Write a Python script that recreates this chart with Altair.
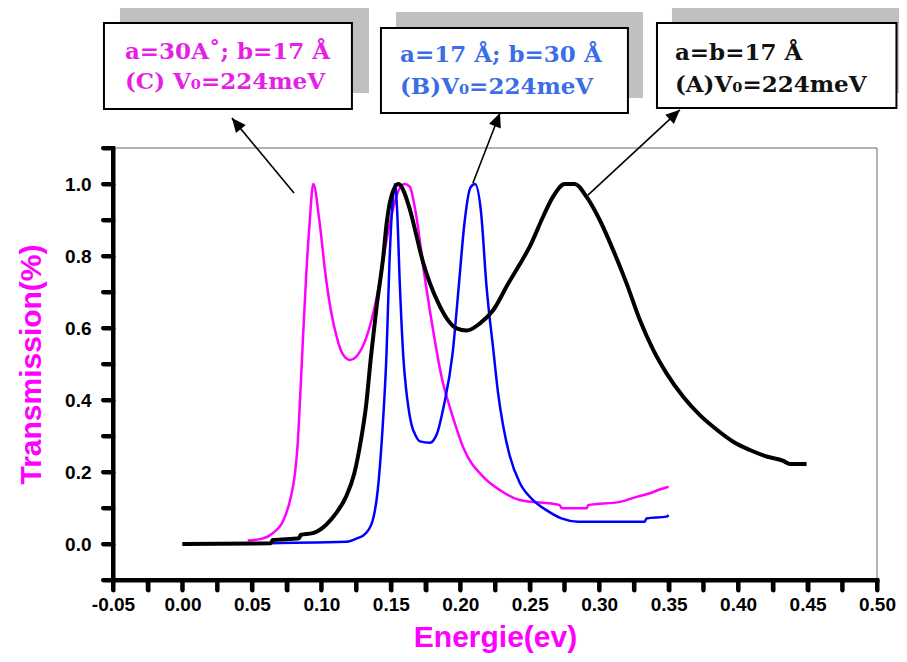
import math
import altair as alt
import pandas as pd

# ---------------- data ----------------
magenta_E = [0.047, 0.0575, 0.065, 0.0727, 0.0775, 0.081, 0.083, 0.085, 0.087, 0.089,
             0.0915, 0.0942, 0.0985, 0.1026, 0.1055, 0.111, 0.115, 0.1206, 0.125, 0.1326,
             0.1422, 0.147, 0.152, 0.157, 0.160, 0.1636, 0.168, 0.174, 0.180, 0.187,
             0.1924, 0.1965, 0.2019, 0.2164, 0.2284, 0.2428, 0.2716, 0.273, 0.291, 0.292,
             0.315, 0.327, 0.3365, 0.344, 0.35]
magenta_T = [0.01, 0.015, 0.03, 0.066, 0.122, 0.196, 0.28, 0.43, 0.59, 0.74,
             0.89, 1.0, 0.9, 0.761, 0.68, 0.576, 0.53, 0.511, 0.52, 0.576,
             0.733, 0.845, 0.937, 0.993, 1.0, 0.993, 0.919, 0.752, 0.604, 0.456,
             0.381, 0.33, 0.27, 0.187, 0.15, 0.122, 0.108, 0.099, 0.099, 0.108,
             0.117, 0.131, 0.141, 0.152, 0.159]

blue_E = [0.0, 0.118, 0.126, 0.132, 0.137, 0.1406, 0.1437, 0.147, 0.149, 0.1513,
          0.153, 0.1545, 0.1565, 0.159, 0.161, 0.1626, 0.165, 0.1674, 0.171, 0.178,
          0.1833, 0.188, 0.1945, 0.199, 0.203, 0.2073, 0.2106, 0.2150, 0.2188, 0.2238,
          0.2272, 0.2308, 0.2356, 0.2428, 0.2524, 0.262, 0.2728, 0.2848, 0.3328, 0.334,
          0.3484, 0.35]
blue_T = [0.0, 0.006, 0.016, 0.03, 0.066, 0.15, 0.3, 0.539, 0.78, 0.95,
          1.0, 0.93, 0.72, 0.52, 0.43, 0.381, 0.33, 0.305, 0.285, 0.281,
          0.307, 0.381, 0.53, 0.72, 0.891, 0.99, 1.0, 0.92, 0.72, 0.539,
          0.42, 0.33, 0.245, 0.17, 0.122, 0.094, 0.071, 0.062, 0.062, 0.071,
          0.076, 0.08]

black_E = [0.0, 0.0637, 0.065, 0.084, 0.085, 0.0937, 0.1033, 0.1105, 0.1177, 0.1237,
           0.1285, 0.1321, 0.1357, 0.1398, 0.1446, 0.147, 0.150, 0.1554, 0.1638,
           0.1686, 0.1734, 0.1782, 0.1842, 0.1902, 0.1974, 0.2046, 0.2142, 0.2238, 0.2346,
           0.2425, 0.25, 0.2596, 0.2668, 0.2752, 0.2824, 0.2908, 0.3004, 0.31, 0.3197,
           0.3293, 0.3389, 0.3485, 0.3605, 0.3725, 0.3845, 0.3965, 0.4085, 0.4205, 0.4325,
           0.4373, 0.4493]
black_T = [0.0, 0.002, 0.011, 0.016, 0.025, 0.03, 0.053, 0.085, 0.131, 0.196,
           0.289, 0.381, 0.52, 0.66, 0.80, 0.891, 0.96, 1.0, 0.928,
           0.854, 0.78, 0.724, 0.669, 0.627, 0.599, 0.593, 0.613, 0.65, 0.724,
           0.775, 0.826, 0.909, 0.965, 1.0, 1.0, 0.965, 0.9, 0.817, 0.724,
           0.622, 0.539, 0.474, 0.409, 0.358, 0.318, 0.284, 0.261, 0.243, 0.231,
           0.222, 0.222]

# axis ticks
x_ticks = [round(-0.05 + 0.025 * i, 3) for i in range(23)]
y_ticks = [round(-0.1 + 0.1 * i, 2) for i in range(13)]

# annotation boxes (data coordinates), labels and arrows
box_x1 = [-0.0565, 0.1429, 0.3416]
box_x2 = [0.122, 0.3207, 0.514]
box_y1 = [1.208, 1.197, 1.211]
box_y2 = [1.447, 1.433, 1.447]
shadow_x1 = [-0.045, 0.1537, 0.3524]
shadow_x2 = [0.1343, 0.3315, 0.54]
shadow_y1 = [1.253, 1.239, 1.253]
shadow_y2 = [1.50, 1.478, 1.497]

label_x = [-0.0414, -0.0414, 0.1566, 0.1566, 0.3545, 0.3545]
label_y = [1.367, 1.283, 1.358, 1.269, 1.364, 1.275]
label_text = ["a=30A˚; b=17 Å", "(C) V₀=224meV",
              "a=17 Å; b=30 Å", "(B)V₀=224meV",
              "a=b=17 Å", "(A)V₀=224meV"]
label_color = ["#e61ee6", "#e61ee6", "#3b6de6", "#3b6de6", "#111111", "#111111"]

arrow_tail_x = [0.0803, 0.2091, 0.2919]
arrow_tail_y = [0.975, 1.003, 0.969]
arrow_head_x = [0.0356, 0.2286, 0.3581]
arrow_head_y = [1.183, 1.197, 1.206]

# ---------------- chart ----------------
W, H = 764, 432
XD = [-0.05, 0.5]
YD = [-0.1, 1.1]
px_per_x = W / (XD[1] - XD[0])
px_per_y = H / (YD[1] - YD[0])
TICK_PX = 10

xs = alt.Scale(domain=XD, nice=False, zero=False)
ys = alt.Scale(domain=YD, nice=False, zero=False)

curves = pd.concat([
    pd.DataFrame({"E": magenta_E, "T": magenta_T, "s": "C"}),
    pd.DataFrame({"E": blue_E, "T": blue_T, "s": "B"}),
    pd.DataFrame({"E": black_E, "T": black_T, "s": "A"}),
])

x_axis = alt.Axis(
    values=x_ticks,
    labelExpr="round(datum.value*40) % 2 == 0 ? replace(format(datum.value, '.2f'), '\u2212', '-') : ''",
    title="Energie(ev)", titlePadding=8, labelPadding=5,
)
y_axis = alt.Axis(
    values=y_ticks,
    labelExpr="round(datum.value*10) % 2 == 0 ? format(datum.value, '.1f') : ''",
    title="Transmission(%)", titlePadding=18, labelPadding=12,
)


def X(field):
    return alt.X(field, scale=xs, axis=x_axis)


def Y(field):
    return alt.Y(field, scale=ys, axis=y_axis)


def line(series, color, width):
    d = curves[curves["s"] == series]
    return alt.Chart(d).mark_line(
        color=color, strokeWidth=width, interpolate="monotone", strokeJoin="round"
    ).encode(x=X("E:Q"), y=Y("T:Q"), order="E:Q")


# thin frame on top and right
frame = alt.Chart(pd.DataFrame({"x1": [XD[0], XD[1]], "x2": [XD[1], XD[1]],
                                "y1": [YD[1], YD[0]], "y2": [YD[1], YD[1]]})).mark_rule(
    color="#666666", strokeWidth=1
).encode(x=X("x1:Q"), x2="x2:Q", y=Y("y1:Q"), y2="y2:Q")

# thick left / bottom axis lines and ticks
axis_lines = alt.Chart(pd.DataFrame({"x1": [XD[0], XD[0]], "x2": [XD[0], XD[1]],
                                     "y1": [YD[0], YD[0]], "y2": [YD[1], YD[0]]})).mark_rule(
    color="black", strokeWidth=4, strokeCap="square"
).encode(x=X("x1:Q"), x2="x2:Q", y=Y("y1:Q"), y2="y2:Q")

x_tick_marks = alt.Chart(pd.DataFrame({
    "x": x_ticks, "y1": YD[0], "y2": YD[0] - TICK_PX / px_per_y})).mark_rule(
    color="black", strokeWidth=4, strokeCap="round"
).encode(x=X("x:Q"), y=Y("y1:Q"), y2="y2:Q")

y_tick_marks = alt.Chart(pd.DataFrame({
    "y": y_ticks, "x1": XD[0], "x2": XD[0] - TICK_PX / px_per_x})).mark_rule(
    color="black", strokeWidth=4, strokeCap="round"
).encode(y=Y("y:Q"), x=X("x1:Q"), x2="x2:Q")

shadows = alt.Chart(pd.DataFrame({"x1": shadow_x1, "x2": shadow_x2,
                                  "y1": shadow_y1, "y2": shadow_y2})).mark_rect(
    fill="#c0c0c0"
).encode(x=X("x1:Q"), x2="x2:Q", y=Y("y1:Q"), y2="y2:Q")

boxes = alt.Chart(pd.DataFrame({"x1": box_x1, "x2": box_x2,
                                "y1": box_y1, "y2": box_y2})).mark_rect(
    fill="white", stroke="black", strokeWidth=2
).encode(x=X("x1:Q"), x2="x2:Q", y=Y("y1:Q"), y2="y2:Q")

labels = alt.Chart(pd.DataFrame({"x": label_x, "y": label_y, "t": label_text,
                                 "c": label_color})).mark_text(
    align="left", baseline="middle", font="DejaVu Serif", fontWeight="bold", fontSize=23
).encode(
    x=X("x:Q"), y=Y("y:Q"),
    text="t:N",
    color=alt.Color("c:N", scale=None),
)

arrow_df = pd.DataFrame({"x1": arrow_tail_x, "y1": arrow_tail_y,
                         "x2": arrow_head_x, "y2": arrow_head_y})
arrow_df["ang"] = [
    math.degrees(math.atan2((hx - tx) * px_per_x, (hy - ty) * px_per_y)) % 360
    for tx, ty, hx, hy in zip(arrow_tail_x, arrow_tail_y, arrow_head_x, arrow_head_y)
]

arrow_lines = alt.Chart(arrow_df).mark_rule(color="black", strokeWidth=1.6).encode(
    x=X("x1:Q"), x2="x2:Q", y=Y("y1:Q"), y2="y2:Q",
)
arrow_heads = alt.Chart(arrow_df).mark_point(
    shape="M0,0L0.45,1L-0.45,1Z", filled=True, fill="black", opacity=1,
    strokeWidth=0, size=784
).encode(
    x=X("x2:Q"), y=Y("y2:Q"),
    angle=alt.Angle("ang:Q", scale=None),
)

chart = alt.layer(
    frame,
    line("C", "#ff00ff", 2.5),
    line("B", "#0000ff", 2.5),
    line("A", "#000000", 4),
    axis_lines, x_tick_marks, y_tick_marks,
    shadows, boxes, labels, arrow_lines, arrow_heads,
).properties(
    width=W, height=H,
    padding={"left": 105, "top": 140, "right": 22, "bottom": 74},
    autosize=alt.AutoSizeParams(type="none"),
    background="white",
).configure_view(
    strokeWidth=0
).configure_axis(
    titleColor="#ff00ff", titleFont="Liberation Sans",
    titleFontSize=30, titleFontWeight="bold",
    labelFont="Liberation Sans", labelFontSize=19, labelFontWeight="bold",
    labelColor="black", labelFlush=False, labelOverlap=False,
    tickSize=10, tickWidth=4, tickColor="black", tickCap="round",
    domainColor="black", domainWidth=4, domainCap="square", grid=False,
)

chart.save("out.html", embed_options={"renderer": "svg", "actions": False})
